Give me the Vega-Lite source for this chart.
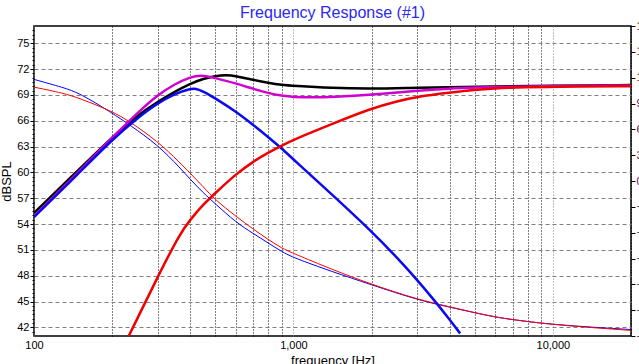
{
  "$schema": "https://vega.github.io/schema/vega-lite/v6.json",
  "autosize": {"type": "none"},
  "width": 597,
  "height": 310,
  "padding": {"left": 34, "top": 26, "right": 8, "bottom": 28},
  "background": "#ffffff",
  "config": {
    "view": {"stroke": "#000000", "strokeWidth": 1.5},
    "font": "Liberation Sans"
  },
  "title": {"text": "Frequency Response (#1)", "fontSize": 16, "font": "Liberation Sans", "fontWeight": "normal", "color": "#2a2af0", "anchor": "middle", "offset": -1},
  "datasets": {
    "curves": [
      {"f": 100, "v": 55.3, "s": "System"},
      {"f": 150, "v": 60.4, "s": "System"},
      {"f": 200, "v": 64.1, "s": "System"},
      {"f": 250, "v": 66.6, "s": "System"},
      {"f": 300, "v": 68.2, "s": "System"},
      {"f": 350, "v": 69.4, "s": "System"},
      {"f": 400, "v": 70.3, "s": "System"},
      {"f": 450, "v": 70.9, "s": "System"},
      {"f": 500, "v": 71.2, "s": "System"},
      {"f": 550, "v": 71.3, "s": "System"},
      {"f": 600, "v": 71.2, "s": "System"},
      {"f": 700, "v": 70.75, "s": "System"},
      {"f": 800, "v": 70.4, "s": "System"},
      {"f": 900, "v": 70.15, "s": "System"},
      {"f": 1000, "v": 70.05, "s": "System"},
      {"f": 1400, "v": 69.8, "s": "System"},
      {"f": 2000, "v": 69.7, "s": "System"},
      {"f": 3000, "v": 69.85, "s": "System"},
      {"f": 5000, "v": 69.95, "s": "System"},
      {"f": 10000, "v": 70.05, "s": "System"},
      {"f": 20000, "v": 70.15, "s": "System"},

      {"f": 100, "v": 54.9, "s": "System B"},
      {"f": 150, "v": 60.2, "s": "System B"},
      {"f": 200, "v": 64.0, "s": "System B"},
      {"f": 250, "v": 66.9, "s": "System B"},
      {"f": 300, "v": 69.0, "s": "System B"},
      {"f": 350, "v": 70.3, "s": "System B"},
      {"f": 400, "v": 71.05, "s": "System B"},
      {"f": 440, "v": 71.35, "s": "System B"},
      {"f": 500, "v": 70.95, "s": "System B"},
      {"f": 600, "v": 70.35, "s": "System B"},
      {"f": 700, "v": 69.7, "s": "System B"},
      {"f": 800, "v": 69.2, "s": "System B"},
      {"f": 900, "v": 68.9, "s": "System B"},
      {"f": 1000, "v": 68.75, "s": "System B"},
      {"f": 1200, "v": 68.7, "s": "System B"},
      {"f": 1400, "v": 68.75, "s": "System B"},
      {"f": 2000, "v": 69.0, "s": "System B"},
      {"f": 3000, "v": 69.5, "s": "System B"},
      {"f": 4000, "v": 69.75, "s": "System B"},
      {"f": 5000, "v": 69.85, "s": "System B"},
      {"f": 7000, "v": 69.95, "s": "System B"},
      {"f": 10000, "v": 70.05, "s": "System B"},
      {"f": 20000, "v": 70.1, "s": "System B"},

      {"f": 100, "v": 54.8, "s": "Woofer"},
      {"f": 150, "v": 60.0, "s": "Woofer"},
      {"f": 200, "v": 63.8, "s": "Woofer"},
      {"f": 250, "v": 66.3, "s": "Woofer"},
      {"f": 300, "v": 68.05, "s": "Woofer"},
      {"f": 350, "v": 69.15, "s": "Woofer"},
      {"f": 400, "v": 69.7, "s": "Woofer"},
      {"f": 420, "v": 69.75, "s": "Woofer"},
      {"f": 450, "v": 69.4, "s": "Woofer"},
      {"f": 500, "v": 68.6, "s": "Woofer"},
      {"f": 600, "v": 67.07, "s": "Woofer"},
      {"f": 700, "v": 65.5, "s": "Woofer"},
      {"f": 800, "v": 64.1, "s": "Woofer"},
      {"f": 900, "v": 62.8, "s": "Woofer"},
      {"f": 1000, "v": 61.5, "s": "Woofer"},
      {"f": 1400, "v": 57.5, "s": "Woofer"},
      {"f": 2000, "v": 53.15, "s": "Woofer"},
      {"f": 2500, "v": 50.15, "s": "Woofer"},
      {"f": 3000, "v": 47.5, "s": "Woofer"},
      {"f": 3500, "v": 45.1, "s": "Woofer"},
      {"f": 4000, "v": 42.9, "s": "Woofer"},
      {"f": 4390, "v": 41.3, "s": "Woofer"},

      {"f": 220, "v": 39.6, "s": "Tweeter"},
      {"f": 250, "v": 43.0, "s": "Tweeter"},
      {"f": 300, "v": 47.9, "s": "Tweeter"},
      {"f": 366, "v": 52.96, "s": "Tweeter"},
      {"f": 400, "v": 54.5, "s": "Tweeter"},
      {"f": 450, "v": 56.3, "s": "Tweeter"},
      {"f": 500, "v": 57.6, "s": "Tweeter"},
      {"f": 600, "v": 59.8, "s": "Tweeter"},
      {"f": 700, "v": 61.27, "s": "Tweeter"},
      {"f": 800, "v": 62.3, "s": "Tweeter"},
      {"f": 900, "v": 63.1, "s": "Tweeter"},
      {"f": 1000, "v": 63.8, "s": "Tweeter"},
      {"f": 1400, "v": 65.6, "s": "Tweeter"},
      {"f": 2000, "v": 67.45, "s": "Tweeter"},
      {"f": 2500, "v": 68.25, "s": "Tweeter"},
      {"f": 3000, "v": 68.8, "s": "Tweeter"},
      {"f": 4000, "v": 69.27, "s": "Tweeter"},
      {"f": 5000, "v": 69.6, "s": "Tweeter"},
      {"f": 6000, "v": 69.75, "s": "Tweeter"},
      {"f": 7000, "v": 69.85, "s": "Tweeter"},
      {"f": 10000, "v": 69.95, "s": "Tweeter"},
      {"f": 20000, "v": 70.0, "s": "Tweeter"},

      {"f": 100, "v": 70.8, "s": "Woofer raw"},
      {"f": 130, "v": 69.85, "s": "Woofer raw"},
      {"f": 150, "v": 69.2, "s": "Woofer raw"},
      {"f": 200, "v": 66.9, "s": "Woofer raw"},
      {"f": 234, "v": 65.5, "s": "Woofer raw"},
      {"f": 300, "v": 63.2, "s": "Woofer raw"},
      {"f": 366, "v": 60.5, "s": "Woofer raw"},
      {"f": 400, "v": 59.2, "s": "Woofer raw"},
      {"f": 450, "v": 57.6, "s": "Woofer raw"},
      {"f": 500, "v": 56.35, "s": "Woofer raw"},
      {"f": 600, "v": 54.2, "s": "Woofer raw"},
      {"f": 700, "v": 52.9, "s": "Woofer raw"},
      {"f": 800, "v": 51.8, "s": "Woofer raw"},
      {"f": 900, "v": 50.8, "s": "Woofer raw"},
      {"f": 1000, "v": 50.1, "s": "Woofer raw"},
      {"f": 1400, "v": 48.5, "s": "Woofer raw"},
      {"f": 2000, "v": 46.95, "s": "Woofer raw"},
      {"f": 3000, "v": 45.2, "s": "Woofer raw"},
      {"f": 4000, "v": 44.35, "s": "Woofer raw"},
      {"f": 5000, "v": 43.7, "s": "Woofer raw"},
      {"f": 6000, "v": 43.2, "s": "Woofer raw"},
      {"f": 7000, "v": 42.9, "s": "Woofer raw"},
      {"f": 10000, "v": 42.3, "s": "Woofer raw"},
      {"f": 20000, "v": 41.75, "s": "Woofer raw"},

      {"f": 100, "v": 69.9, "s": "Tweeter raw"},
      {"f": 130, "v": 69.2, "s": "Tweeter raw"},
      {"f": 150, "v": 68.6, "s": "Tweeter raw"},
      {"f": 200, "v": 67.1, "s": "Tweeter raw"},
      {"f": 234, "v": 65.9, "s": "Tweeter raw"},
      {"f": 300, "v": 63.6, "s": "Tweeter raw"},
      {"f": 366, "v": 61.1, "s": "Tweeter raw"},
      {"f": 400, "v": 59.9, "s": "Tweeter raw"},
      {"f": 450, "v": 58.3, "s": "Tweeter raw"},
      {"f": 500, "v": 56.8, "s": "Tweeter raw"},
      {"f": 600, "v": 54.9, "s": "Tweeter raw"},
      {"f": 700, "v": 53.4, "s": "Tweeter raw"},
      {"f": 800, "v": 52.2, "s": "Tweeter raw"},
      {"f": 900, "v": 51.2, "s": "Tweeter raw"},
      {"f": 1000, "v": 50.6, "s": "Tweeter raw"},
      {"f": 1400, "v": 48.75, "s": "Tweeter raw"},
      {"f": 2000, "v": 47.0, "s": "Tweeter raw"},
      {"f": 3000, "v": 45.25, "s": "Tweeter raw"},
      {"f": 4000, "v": 44.4, "s": "Tweeter raw"},
      {"f": 5000, "v": 43.7, "s": "Tweeter raw"},
      {"f": 6000, "v": 43.2, "s": "Tweeter raw"},
      {"f": 7000, "v": 42.9, "s": "Tweeter raw"},
      {"f": 10000, "v": 42.3, "s": "Tweeter raw"},
      {"f": 20000, "v": 41.65, "s": "Tweeter raw"}
    ],
    "phase": [{"p": -180}, {"p": 180}]
  },
  "resolve": {"scale": {"y": "independent"}},
  "layer": [
    {
      "data": {"name": "curves"},
      "layer": [
        {
          "transform": [{"filter": {"field": "s", "oneOf": ["Tweeter raw", "Woofer raw"]}}],
          "mark": {"type": "line", "strokeWidth": 1, "interpolate": "basis", "clip": true}
        },
        {
          "transform": [{"filter": {"field": "s", "oneOf": ["Woofer", "Tweeter", "System", "System B"]}}],
          "mark": {"type": "line", "strokeWidth": 2.5, "interpolate": "basis", "clip": true}
        }
      ],
      "encoding": {
        "x": {
          "field": "f", "type": "quantitative",
          "scale": {"type": "log", "domain": [100, 20000], "nice": false},
          "axis": {
            "title": "frequency [Hz]",
            "titleFont": "Liberation Sans", "titleFontSize": 13, "titleFontWeight": "normal", "titleColor": "#000000", "titlePadding": 4,
            "values": [100, 200, 300, 400, 500, 600, 700, 800, 900, 1000, 2000, 3000, 4000, 5000, 6000, 7000, 8000, 9000, 10000, 20000],
            "labelExpr": "datum.value == 100 ? '100' : datum.value == 1000 ? '1,000' : datum.value == 10000 ? '10,000' : ''",
            "labelOverlap": false, "labelFlush": false,
            "labelFont": "Liberation Sans", "labelFontSize": 11, "labelColor": "#000000", "labelPadding": 3,
            "ticks": false, "domain": false,
            "grid": true,
            "gridColor": {"condition": {"test": "datum.value == 100 || datum.value == 1000 || datum.value == 10000", "value": "#808080"}, "value": "#000000"},
            "gridDash": [1, 2], "gridWidth": 1
          }
        },
        "y": {
          "field": "v", "type": "quantitative",
          "scale": {"domain": [41, 77], "nice": false, "zero": false},
          "axis": {
            "title": "dBSPL",
            "titleFont": "Liberation Sans", "titleFontSize": 13, "titleFontWeight": "normal", "titleColor": "#000000", "titlePadding": 3,
            "values": [41.5, 42, 42.5, 43, 43.5, 44, 44.5, 45, 45.5, 46, 46.5, 47, 47.5, 48, 48.5, 49, 49.5, 50, 50.5, 51, 51.5, 52, 52.5, 53, 53.5, 54, 54.5, 55, 55.5, 56, 56.5, 57, 57.5, 58, 58.5, 59, 59.5, 60, 60.5, 61, 61.5, 62, 62.5, 63, 63.5, 64, 64.5, 65, 65.5, 66, 66.5, 67, 67.5, 68, 68.5, 69, 69.5, 70, 70.5, 71, 71.5, 72, 72.5, 73, 73.5, 74, 74.5, 75, 75.5, 76, 76.5],
            "labelExpr": "datum.value % 3 == 0 ? format(datum.value, 'd') : ''",
            "labelOverlap": false,
            "labelFont": "Liberation Sans", "labelFontSize": 11, "labelColor": "#000000", "labelPadding": 1,
            "tickColor": "#000000",
            "tickSize": {"condition": {"test": "datum.value % 3 == 0", "value": 4}, "value": 2},
            "domain": false,
            "grid": true,
            "gridColor": "#808080",
            "gridOpacity": {"condition": {"test": "datum.value % 3 == 0", "value": 1}, "value": 0},
            "gridDash": [4, 3], "gridWidth": 1
          }
        },
        "color": {
          "field": "s", "type": "nominal", "legend": null,
          "scale": {
            "domain": ["Tweeter raw", "Woofer raw", "Woofer", "Tweeter", "System", "System B"],
            "range": ["#ff0000", "#0000ff", "#0a0af0", "#f00000", "#000000", "#d000d0"]
          }
        }
      }
    },
    {
      "data": {"name": "phase"},
      "mark": {"type": "point", "opacity": 0},
      "encoding": {
        "y": {
          "field": "p", "type": "quantitative",
          "scale": {"domain": [-180, 180], "nice": false, "zero": false},
          "axis": {
            "orient": "right", "title": null,
            "values": [-180, -150, -120, -90, -60, -30, 0, 30, 60, 90, 120, 150, 180],
            "labelFont": "Liberation Sans", "labelFontSize": 11, "labelColor": "#6b0f3a", "labelPadding": 1,
            "tickSize": 4, "tickColor": "#000000",
            "domain": false, "grid": false
          }
        }
      }
    }
  ]
}
